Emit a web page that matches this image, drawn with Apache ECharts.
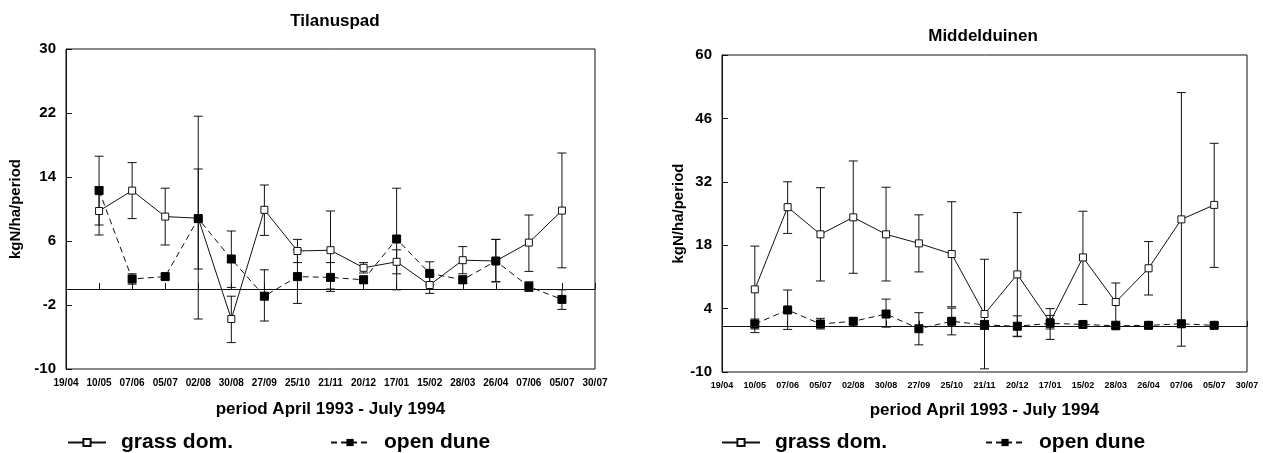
<!DOCTYPE html>
<html>
<head>
<meta charset="utf-8">
<script src="https://cdn.jsdelivr.net/npm/echarts@6/dist/echarts.min.js"></script>
<style>
html,body{margin:0;padding:0;background:#fff;}
#c{width:1263px;height:453px;}
</style>
</head>
<body>
<div id="c"></div>
<script>
// ---- data ----
const categories = ['19/04','10/05','07/06','05/07','02/08','30/08','27/09','25/10','21/11','20/12','17/01','15/02','28/03','26/04','07/06','05/07','30/07'];
const yTicksT = [-10, -2, 6, 14, 22, 30];
const yTicksM = [-10, 4, 18, 32, 46, 60];

// Tilanuspad (values for 10/05 ... 05/07)
const grassT     = [9.75, 12.3, 9.05, 8.85, -3.75, 9.9, 4.75, 4.85, 2.65, 3.4, 0.5, 3.6, 3.5, 5.8, 9.8];
const grassTLow  = [6.75, 8.8, 5.5, -3.75, -6.7, 6.7, 3.3, 0.0, 2.0, 1.9, -0.55, 1.9, 0.9, 2.2, 2.65];
const grassTHigh = [12.75, 15.8, 12.6, 21.6, -0.9, 13.0, 6.2, 9.75, 3.3, 4.9, 1.55, 5.3, 6.2, 9.25, 17.0];
const duneT      = [12.3, 1.25, 1.55, 8.8, 3.75, -0.9, 1.55, 1.45, 1.15, 6.25, 1.95, 1.15, 3.5, 0.3, -1.3];
const duneTLow   = [8.0, 0.6, 1.2, 2.5, 0.2, -4.0, -1.8, -0.3, 0.7, -0.1, 0.5, 0.7, 0.9, -0.3, -2.55];
const duneTHigh  = [16.6, 1.9, 1.9, 15.0, 7.25, 2.4, 4.9, 3.3, 1.6, 12.6, 3.4, 1.6, 6.2, 0.9, -0.1];

// Middelduinen
const grassM     = [8.25, 26.4, 20.4, 24.15, 20.4, 18.4, 16.05, 2.8, 11.55, 1.0, 15.3, 5.45, 12.9, 23.7, 26.9];
const grassMLow  = [-1.3, 20.6, 10.1, 11.8, 10.1, 12.1, 4.4, -9.3, -2.1, -0.5, 4.9, 1.2, 7.0, -4.3, 13.1];
const grassMHigh = [17.8, 32.0, 30.7, 36.6, 30.8, 24.7, 27.6, 14.9, 25.2, 2.5, 25.5, 9.65, 18.8, 51.7, 40.5];
const duneM      = [0.6, 3.7, 0.6, 1.2, 2.8, -0.45, 1.2, 0.4, 0.1, 0.75, 0.5, 0.2, 0.3, 0.65, 0.3];
const duneMLow   = [-0.5, -0.6, -0.5, 0.5, -0.1, -4.0, -1.8, -0.6, -2.2, -2.8, 0.0, -0.3, -0.2, 0.0, -0.2];
const duneMHigh  = [1.7, 8.1, 1.85, 1.9, 6.1, 3.1, 4.1, 1.4, 2.4, 4.0, 1.0, 0.7, 0.8, 1.3, 0.8];

// ---- build ----
const FONT = '"Liberation Sans", Arial, Helvetica, sans-serif';
const lineData = v => [null].concat(v, [null]);
const errData = (lo, hi) => lo.map((l, i) => [i + 1, l, hi[i]]);

function errRender(params, api) {
  const x = api.value(0);
  const lo = api.coord([x, api.value(1)]);
  const hi = api.coord([x, api.value(2)]);
  const w = 4.5;
  const st = {stroke: '#111', lineWidth: 1, fill: null};
  return {type: 'group', children: [
    {type: 'line', shape: {x1: lo[0], y1: lo[1], x2: hi[0], y2: hi[1]}, style: st},
    {type: 'line', shape: {x1: lo[0] - w, y1: lo[1], x2: lo[0] + w, y2: lo[1]}, style: st},
    {type: 'line', shape: {x1: hi[0] - w, y1: hi[1], x2: hi[0] + w, y2: hi[1]}, style: st}
  ]};
}

function xAxis(gi, fs, gap) {
  return {
    type: 'category', gridIndex: gi, data: categories, boundaryGap: false,
    axisLine: {lineStyle: {color: '#111', width: 1}},
    axisTick: {inside: true, length: 6, interval: 0, lineStyle: {color: '#111'}},
    axisLabel: {interval: 0, color: '#000', fontFamily: FONT, fontWeight: 'bold', fontSize: fs, margin: 9},
    splitLine: {show: false},
    name: 'period April 1993 - July 1994', nameLocation: 'middle', nameGap: gap,
    nameTextStyle: {color: '#000', fontFamily: FONT, fontWeight: 'bold', fontSize: 17}
  };
}
function yAxis(gi, ticks, gap) {
  return {
    type: 'value', gridIndex: gi, min: ticks[0], max: ticks[ticks.length - 1],
    interval: ticks[1] - ticks[0],
    axisLine: {show: true, lineStyle: {color: '#111', width: 1}},
    axisTick: {show: true, inside: true, length: 6, customValues: ticks, lineStyle: {color: '#111'}},
    axisLabel: {customValues: ticks, color: '#000', fontFamily: FONT, fontWeight: 'bold', fontSize: 15, margin: 10},
    splitLine: {show: false},
    name: 'kgN/ha/period', nameLocation: 'middle', nameRotate: 90, nameGap: gap,
    nameTextStyle: {color: '#000', fontFamily: FONT, fontWeight: 'bold', fontSize: 15}
  };
}
function seriesFor(gi, g, gl, gh, d, dl, dh) {
  return [
    {type: 'custom', xAxisIndex: gi, yAxisIndex: gi, renderItem: errRender, data: errData(gl, gh), z: 1, silent: true},
    {type: 'custom', xAxisIndex: gi, yAxisIndex: gi, renderItem: errRender, data: errData(dl, dh), z: 1, silent: true},
    {name: 'grass dom.', type: 'line', xAxisIndex: gi, yAxisIndex: gi, data: lineData(g),
     symbol: 'rect', symbolSize: 7, showAllSymbol: true, z: 3,
     lineStyle: {color: '#111', width: 1}, itemStyle: {color: '#fff', borderColor: '#111', borderWidth: 1},
     markLine: {silent: true, symbol: 'none', label: {show: false}, lineStyle: {color: '#111', type: 'solid', width: 1},
                data: [{yAxis: 0}]}},
    {name: 'open dune', type: 'line', xAxisIndex: gi, yAxisIndex: gi, data: lineData(d),
     symbol: 'rect', symbolSize: 8, showAllSymbol: true, z: 4,
     lineStyle: {color: '#111', width: 1, type: [6, 4]}, itemStyle: {color: '#000', borderColor: '#000'}}
  ];
}
function legend(left, gap) {
  return {
    left: left, top: 432, orient: 'horizontal', padding: 0, itemWidth: 38, itemHeight: 9, itemGap: gap,
    data: ['grass dom.', 'open dune'], selectedMode: false,
    textStyle: {color: '#000', fontFamily: FONT, fontWeight: 'bold', fontSize: 21, padding: [0, 0, 0, 10]}
  };
}

const chart = echarts.init(document.getElementById('c'), null, {renderer: 'canvas'});
chart.setOption({
  animation: false,
  backgroundColor: '#fff',
  title: [
    {text: 'Tilanuspad', left: 330, top: 8, textAlign: 'center',
     textStyle: {color: '#000', fontFamily: FONT, fontWeight: 'bold', fontSize: 17}},
    {text: 'Middelduinen', left: 978, top: 23, textAlign: 'center',
     textStyle: {color: '#000', fontFamily: FONT, fontWeight: 'bold', fontSize: 17}}
  ],
  legend: [legend(67, 97), legend(721, 98)],
  grid: [
    {left: 66, top: 49, width: 529, height: 320, show: true, borderColor: '#111', borderWidth: 1},
    {left: 722, top: 55, width: 525, height: 317, show: true, borderColor: '#111', borderWidth: 1}
  ],
  xAxis: [xAxis(0, 10, 32), xAxis(1, 9, 30)],
  yAxis: [yAxis(0, yTicksT, 43), yAxis(1, yTicksM, 28)],
  series: [].concat(
    seriesFor(0, grassT, grassTLow, grassTHigh, duneT, duneTLow, duneTHigh),
    seriesFor(1, grassM, grassMLow, grassMHigh, duneM, duneMLow, duneMHigh)
  )
});
</script>
</body>
</html>
